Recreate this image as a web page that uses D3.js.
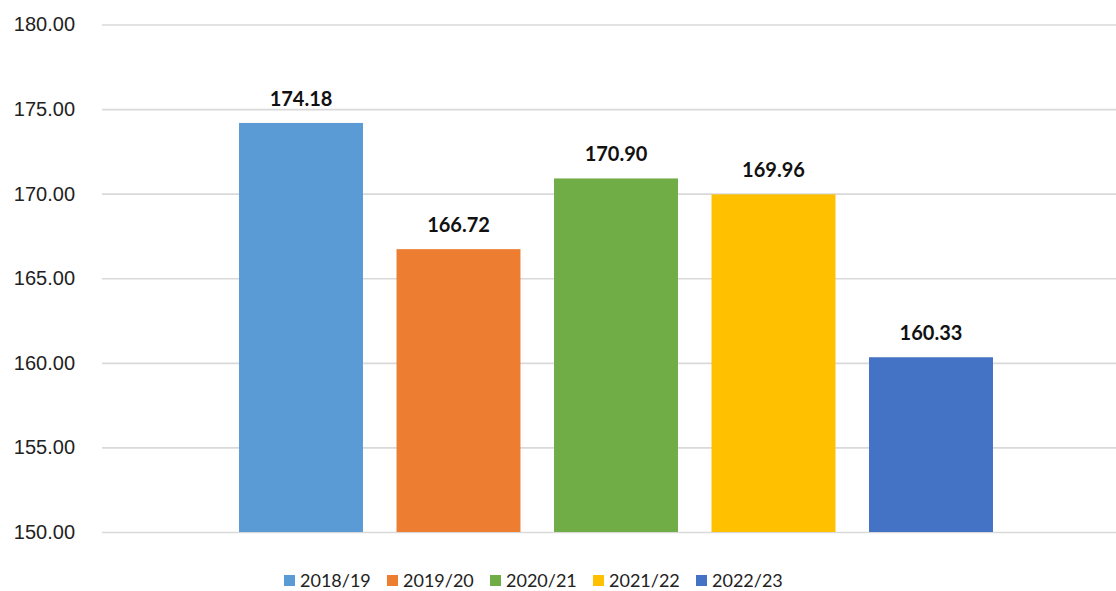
<!DOCTYPE html>
<meta charset="utf-8">
<style>
  body { margin: 0; background: #fff; }
  svg { display: block; font-family: Lato, "Open Sans", sans-serif; }
  .axis text { fill: #222; font-size: 20px; }
  .axis line { stroke: #d9d9d9; stroke-width: 1.6px; }
  .axis .domain { display: none; }
  .label { font-size: 20px; font-weight: bold; fill: #111; }
  .legend text { font-size: 18px; fill: #222; }
</style>
<svg width="1116" height="591"></svg>
<script src="https://cdn.jsdelivr.net/npm/d3@7"></script>
<script>
var seasons = ["2018/19", "2019/20", "2020/21", "2021/22", "2022/23"];
var values = [174.18, 166.72, 170.90, 169.96, 160.33];
var colors = ["#5b9bd5", "#ed7d31", "#70ad47", "#ffc000", "#4472c4"];
var yTicks = [150, 155, 160, 165, 170, 175, 180];

var svg = d3.select("svg"),
    W = +svg.attr("width"),
    margin = {top: 24.5, left: 102, bottom: 59},
    plotRight = 1130,
    height = +svg.attr("height") - margin.top - margin.bottom;

var x = d3.scaleBand()
    .domain(seasons)
    .range([margin.left, plotRight])
    .paddingInner(0.213)
    .paddingOuter(0.87);

var y = d3.scaleLinear()
    .domain([150, 180])
    .range([margin.top + height, margin.top]);

// gridlines + tick labels
svg.append("g")
    .attr("class", "axis")
    .attr("transform", "translate(" + margin.left + ",0)")
    .call(d3.axisLeft(y)
        .tickValues(yTicks)
        .tickFormat(d3.format(".2f"))
        .tickSize(-(W - margin.left))
        .tickPadding(27))
    .call(function(g) { g.select(".domain").remove(); });

var data = seasons.map(function(s, i) { return {season: s, val: values[i], color: colors[i]}; });

svg.append("g").selectAll("rect")
    .data(data)
    .join("rect")
    .attr("x", function(d) { return x(d.season); })
    .attr("width", x.bandwidth())
    .attr("y", function(d) { return y(d.val); })
    .attr("height", function(d) { return y(150) - y(d.val); })
    .attr("fill", function(d) { return d.color; });

svg.append("g").selectAll("text")
    .data(data)
    .join("text")
    .attr("class", "label")
    .attr("text-anchor", "middle")
    .attr("x", function(d) { return x(d.season) + x.bandwidth() / 2; })
    .attr("y", function(d) { return y(d.val) - 17; })
    .text(function(d) { return d3.format(".2f")(d.val); });

// legend
var legend = svg.append("g")
    .attr("class", "legend")
    .attr("transform", "translate(284,575)");

var item = legend.selectAll("g")
    .data(data)
    .join("g")
    .attr("transform", function(d, i) { return "translate(" + (i * 103) + ",0)"; });

item.append("rect")
    .attr("width", 11)
    .attr("height", 11)
    .attr("fill", function(d) { return d.color; });

item.append("text")
    .attr("x", 16)
    .attr("y", 11.5)
    .text(function(d) { return d.season; });
</script>
